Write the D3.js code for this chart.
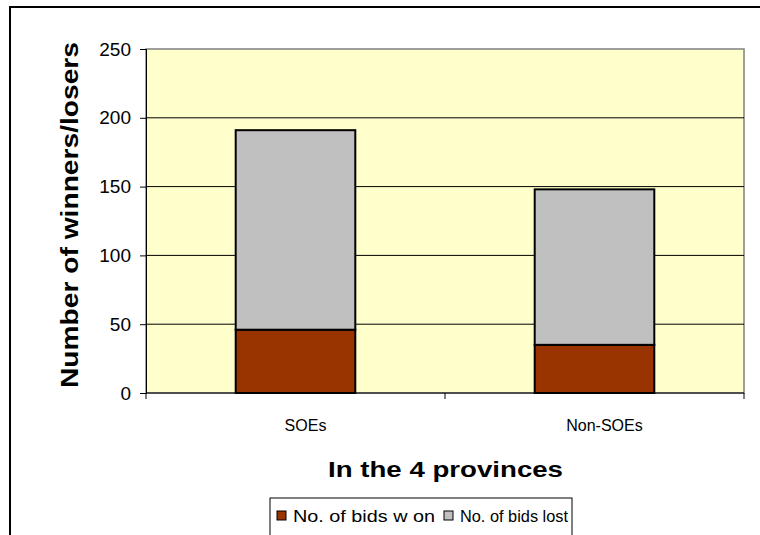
<!DOCTYPE html>
<html><head><meta charset="utf-8">
<script src="https://cdn.jsdelivr.net/npm/d3@7"></script>
<style>body{margin:0;background:#fff;} svg{display:block;font-family:Arial,"Liberation Sans",sans-serif;}</style>
</head><body>
<svg id="c" width="760" height="535"></svg>
<script>
const categories = ["SOEs", "Non-SOEs"];
const bidsWon = [46, 35];
const bidsLost = [145, 113];
const seriesNames = ["No. of bids w on", "No. of bids lost"];
const seriesColors = ["#993300", "#C0C0C0"];
const yTicks = [0, 50, 100, 150, 200, 250];

const svg = d3.select("#c");
const m = {left:146, top:49, right:744, bottom:393};

// outer frame
svg.append("rect").attr("x",10).attr("y",7).attr("width",800).attr("height",600)
  .attr("fill","#fff").attr("stroke","#000").attr("stroke-width",2);

const x = d3.scaleBand().domain(categories).range([m.left, m.right]).paddingInner(0.6).paddingOuter(0.3);
const xOuter = d3.scaleBand().domain(categories).range([m.left, m.right]);
const y = d3.scaleLinear().domain([0, 250]).range([m.bottom, m.top]);

svg.append("rect").attr("x",m.left).attr("y",m.top).attr("width",m.right-m.left).attr("height",m.bottom-m.top)
  .attr("fill","#FFFFCC").attr("stroke","#808080").attr("stroke-width",1.5);

// gridlines
svg.append("g").selectAll("line").data(yTicks.filter(t=>t>0 && t<250)).join("line")
  .attr("x1",m.left).attr("x2",m.right).attr("y1",d=>y(d)).attr("y2",d=>y(d))
  .attr("stroke","#000").attr("stroke-width",1);

// y axis
const yAxis = svg.append("g").attr("transform",`translate(${m.left},0)`)
  .call(d3.axisLeft(y).tickValues(yTicks).tickSize(6).tickPadding(9));
yAxis.select(".domain").attr("stroke","#000");
yAxis.selectAll("text").attr("font-size",19).attr("fill","#000").attr("font-family","Arial,'Liberation Sans',sans-serif");

// x axis
const xAxisG = svg.append("g").attr("transform",`translate(0,${m.bottom})`);
xAxisG.append("line").attr("x1",m.left).attr("x2",m.right).attr("stroke","#000");
const bounds = [m.left].concat(categories.map(c=>xOuter(c)+xOuter.bandwidth()));
xAxisG.selectAll(".tk").data(bounds).join("line").attr("x1",d=>d).attr("x2",d=>d).attr("y1",0).attr("y2",6).attr("stroke","#000");
xAxisG.selectAll(".lb").data(categories).join("text")
  .attr("x",d=>xOuter(d)+xOuter.bandwidth()/2 + 10).attr("y",38).attr("text-anchor","middle")
  .attr("font-size",16).text(d=>d);

// bars
const stackData = categories.map((c,i)=>({cat:c, won:bidsWon[i], lost:bidsLost[i]}));
const stack = d3.stack().keys(["won","lost"])(stackData);
svg.append("g").selectAll("g").data(stack).join("g")
  .attr("fill",(d,i)=>seriesColors[i])
  .selectAll("rect").data(d=>d).join("rect")
  .attr("x",d=>x(d.data.cat)).attr("width",x.bandwidth())
  .attr("y",d=>y(d[1])).attr("height",d=>y(d[0])-y(d[1]))
  .attr("stroke","#000").attr("stroke-width",2);

// axis titles
svg.append("text").attr("transform",`translate(78,215) rotate(-90)`)
  .attr("text-anchor","middle").attr("font-weight","bold").attr("font-size",23)
  .attr("textLength",346).attr("lengthAdjust","spacingAndGlyphs").text("Number of winners/losers");
svg.append("text").attr("x",445.5).attr("y",477).attr("text-anchor","middle")
  .attr("font-weight","bold").attr("font-size",22)
  .attr("textLength",235).attr("lengthAdjust","spacingAndGlyphs").text("In the 4 provinces");

// legend
const lg = svg.append("g");
lg.append("rect").attr("x",270).attr("y",498).attr("width",302).attr("height",60).attr("fill","#fff").attr("stroke","#000");
const items = [{x:277, t:seriesNames[0], c:seriesColors[0], len:142},{x:444, t:seriesNames[1], c:seriesColors[1], len:108}];
items.forEach(it=>{
  lg.append("rect").attr("x",it.x).attr("y",511).attr("width",9).attr("height",9).attr("fill",it.c).attr("stroke","#000");
  lg.append("text").attr("x",it.x+16).attr("y",522).attr("font-size",16.5)
    .attr("textLength",it.len).attr("lengthAdjust","spacingAndGlyphs").text(it.t);
});
</script>
</body></html>
